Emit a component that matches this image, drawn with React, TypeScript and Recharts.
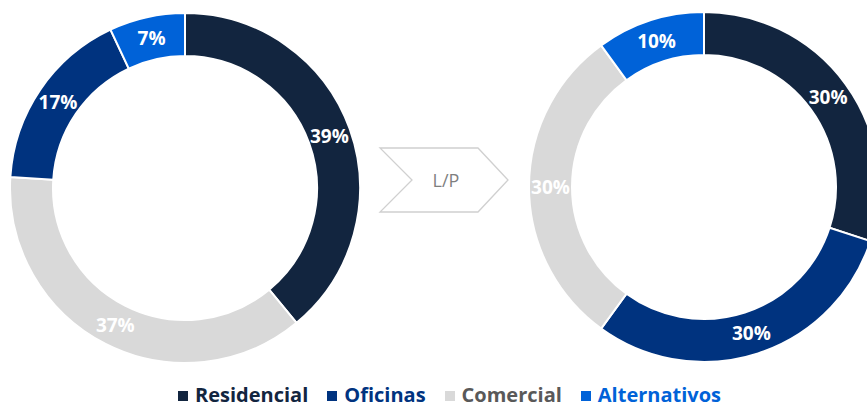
import React from "react";
import { PieChart, Pie, Cell, Legend, Customized } from "recharts";

const categories = ["Residencial", "Oficinas", "Comercial", "Alternativos"];
const sliceColors: Record<string, string> = {
  Residencial: "#12253F",
  Oficinas: "#00337F",
  Comercial: "#D9D9D9",
  Alternativos: "#0062D8",
};
const textColors: Record<string, string> = {
  Residencial: "#12253F",
  Oficinas: "#00337F",
  Comercial: "#595959",
  Alternativos: "#0062D8",
};

// Current mix (clockwise from 12 o'clock)
const currentNames = ["Residencial", "Comercial", "Oficinas", "Alternativos"];
const currentValues = [39, 37, 17, 7];
// Long-term mix (clockwise from 12 o'clock)
const targetNames = ["Residencial", "Oficinas", "Comercial", "Alternativos"];
const targetValues = [30, 30, 30, 10];
const arrowLabel = "L/P";

const currentData = currentNames.map((n, i) => ({ name: n, value: currentValues[i] }));
const targetData = targetNames.map((n, i) => ({ name: n, value: targetValues[i] }));

const FONT = "'Open Sans', 'Noto Sans', sans-serif";
const RAD = Math.PI / 180;

const renderLabel = (p: any) => {
  const { cx, cy, midAngle, innerRadius, outerRadius, value } = p;
  const r = (innerRadius + outerRadius) / 2;
  const x = cx + r * Math.cos(-midAngle * RAD);
  const y = cy + r * Math.sin(-midAngle * RAD);
  return (
    <text
      x={x}
      y={y}
      fill="#ffffff"
      textAnchor="middle"
      dominantBaseline="central"
      fontFamily={FONT}
      fontWeight={700}
      fontSize={19}
    >
      {`${value}%`}
    </text>
  );
};

const Arrow = () => (
  <g>
    <polygon
      points="380,148 478,148 508,180 478,212 380,212 412,180"
      fill="#ffffff"
      stroke="#D0D0D0"
      strokeWidth={1.3}
    />
    <text
      x={446}
      y={180}
      textAnchor="middle"
      dominantBaseline="central"
      fontFamily={FONT}
      fontSize={18}
      fill="#7F7F7F"
    >
      {arrowLabel}
    </text>
  </g>
);

const LegendContent = () => (
  <div
    style={{
      display: "flex",
      alignItems: "center",
      paddingLeft: 178,
      height: 30,
      fontFamily: FONT,
      fontWeight: 700,
      fontSize: 20,
      lineHeight: "28px",
      whiteSpace: "nowrap",
    }}
  >
    {categories.map((c) => (
      <div key={c} style={{ display: "flex", alignItems: "center", marginRight: 19 }}>
        <span
          style={{
            display: "inline-block",
            width: 10,
            height: 10,
            background: sliceColors[c],
            marginRight: 7,
            marginTop: 2,
          }}
        />
        <span style={{ color: textColors[c] }}>{c}</span>
      </div>
    ))}
  </div>
);

export default function App() {
  return (
    <div style={{ position: "absolute", left: 0, top: 0, width: 867, height: 403, background: "#fff", overflow: "hidden" }}>
      <PieChart width={867} height={403} margin={{ top: 0, right: 0, bottom: 0, left: 0 }}>
        <Pie
          data={currentData}
          dataKey="value"
          nameKey="name"
          cx={185}
          cy={188}
          innerRadius={132}
          outerRadius={175}
          startAngle={90}
          endAngle={-270}
          stroke="#ffffff"
          strokeWidth={2}
          label={renderLabel}
          labelLine={false}
          isAnimationActive={false}
        >
          {currentData.map((d) => (
            <Cell key={d.name} fill={sliceColors[d.name]} />
          ))}
        </Pie>
        <Pie
          data={targetData}
          dataKey="value"
          nameKey="name"
          cx={704}
          cy={187}
          innerRadius={132}
          outerRadius={175}
          startAngle={90}
          endAngle={-270}
          stroke="#ffffff"
          strokeWidth={2}
          label={renderLabel}
          labelLine={false}
          isAnimationActive={false}
        >
          {targetData.map((d) => (
            <Cell key={d.name} fill={sliceColors[d.name]} />
          ))}
        </Pie>
        <Customized component={Arrow} />
        <Legend
          content={LegendContent}
          wrapperStyle={{ position: "absolute", left: 0, top: 380, width: 867, height: 30 }}
        />
      </PieChart>
    </div>
  );
}
